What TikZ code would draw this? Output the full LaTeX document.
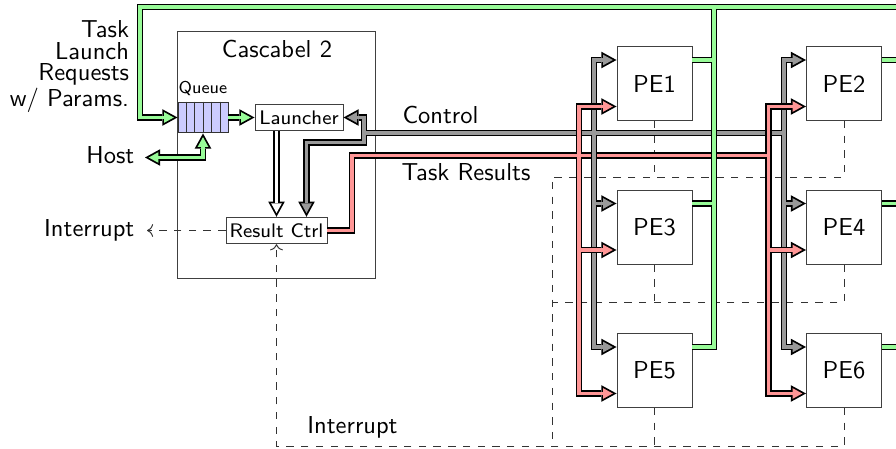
\documentclass[tikz,border=0pt]{standalone}
\usepackage{tikz}
\usetikzlibrary{arrows.meta, positioning, calc}
\renewcommand{\familydefault}{\sfdefault}

\definecolor{taskgreen}{RGB}{152,251,152}
\definecolor{ctrlgray}{RGB}{153,153,153}
\definecolor{resred}{RGB}{255,150,150}
\definecolor{fifoblue}{RGB}{204,204,255}

% each bus is drawn twice: black outline first, coloured core second
\newcommand{\launchbus}[3]{%
  \draw[#1] (out5) -| (714,7);
  \draw[#1] (out1) -- (out1 -| 714,0);
  \draw[#1] (out3) -- (out3 -| 714,0);
  \foreach \i in {2,4,6} \draw[#1] (out\i) -- ++(40,0);
  \draw[#1,#2] (910,7) -- (140,7) |- (queue.west);
  \draw[#1,#2] (queue.east) -- (launcher.west);
  \draw[#1,#3] (hostend) -| (queue.south);
}
\newcommand{\ctrlbus}[3]{%
  \draw[#1,#3] (launcher.east) -| (364,142.5) -| ($(result.north)+(30,0)$);
  \draw[#1] (364,133) -- (784,133);
  \foreach \i in {1,3,5} \draw[#1,#2] (594,133) |- (ctl\i);
  \foreach \i in {2,4,6} \draw[#1,#2] (784,133) |- (ctl\i);
}
\newcommand{\resbus}[2]{%
  \draw[#1] (result.east) -| (352,155.5) -- (768.5,155.5);
  \foreach \i in {1,3,5} \draw[#1,#2] (579,155.5) |- (res\i);
  \foreach \i in {2,4,6} \draw[#1,#2] (768.5,155.5) |- (res\i);
}
\newcommand{\handoff}[2]{%
  \draw[#1,#2] (launcher.south -| result.north) -- (result.north);
}

\begin{document}
\begin{tikzpicture}[
    x=0.408pt, y=-0.408pt,
    box/.style={rectangle, draw=black!75, fill=white, inner sep=0pt},
    pe/.style={box, minimum width=30.6pt, minimum height=30.2pt},
    unit/.style={box, font=\footnotesize},
    fifo/.style={rectangle, draw=black!80, fill=fifoblue, minimum width=20.4pt, minimum height=12.6pt, inner sep=0pt},
    busout/.style={draw=black, line width=2.7pt, >={Triangle[length=6.2pt, width=6.8pt, line width=0pt]}},
    busin/.style={draw=#1, line width=1.25pt, >={Triangle[length=3.96pt, width=4.35pt, line width=0pt]}},
    tipout/.style={->},
    tipin/.style={->, shorten >=1.51pt},
    bothout/.style={<->},
    bothin/.style={<->, shorten <=1.51pt, shorten >=1.51pt},
    irq/.style={draw=black!80, dashed}
]
\useasboundingbox (0,0) rectangle (896,449);
\clip (0,0) rectangle (896,449);

% Cascabel
\node[draw=black!75, minimum width=80.4pt, minimum height=100.4pt] (casc) at (276.5,155) {};
\node[anchor=base] (title) at (277,57.3) {Cascabel 2};
\node[fifo] (queue) at (203,117.5) {};
\foreach \k in {1,...,5}
  \draw[black!80] ($(queue.north west)!\k/6!(queue.north east)$) -- ($(queue.south west)!\k/6!(queue.south east)$);
\node[anchor=base, font=\scriptsize] (qlabel) at ($(queue.north)+(0,-8.5)$) {Queue};
\node[unit, minimum width=35.9pt, minimum height=11pt] (launcher) at (299,117.5) {Launcher};
\node[unit, minimum width=41.2pt, minimum height=10.8pt] (result) at (276.5,230.5) {Result Ctrl};

% PEs
\foreach \i/\x/\y in {1/654.5/83.5, 2/844/83.5, 3/654.5/227, 4/844/227, 5/654.5/370.5, 6/844/370.5} {
  \node[pe] (pe\i) at (\x,\y) {PE\i};
  \coordinate (out\i) at ($(pe\i.north east)+(0,14)$);
  \coordinate (ctl\i) at ($(pe\i.north west)+(0,14)$);
  \coordinate (res\i) at ($(pe\i.south west)+(0,-14.5)$);
}

% labels
\node[anchor=north east, align=right, font={\fontsize{10}{8.8}\selectfont}] (tlr) at (137.7,12) {Task\\Launch\\Requests\\w/ Params.};
\coordinate (hostend) at (145,157.5);
\node[anchor=base east] (host) at ($(hostend)+(-2,5.8)$) {Host};
\coordinate (irqend) at (147,230.5);
\node[anchor=base east] (irqlabel) at ($(irqend)+(-4,6.2)$) {Interrupt};
\node[anchor=base] (irqbus) at (352.5,433) {Interrupt};
\node[anchor=base] (ctrllabel) at (440.5,123.3) {Control};
\node[anchor=base] (reslabel) at (466,180.7) {Task Results};

% interrupts
\draw[irq] (pe2.south) |- (552,177) -- (552,446);
\draw[irq] (pe1.south) -- (pe1.south |- 0,177);
\draw[irq] (pe4.south) |- (552,302);
\draw[irq] (pe3.south) -- (pe3.south |- 0,302);
\draw[irq,->] (pe6.south) |- (result.south |- 0,446) -- (result.south);
\draw[irq] (pe5.south) -- (pe5.south |- 0,446);
\draw[irq,->] (result.west) -- (irqend);

% buses
\handoff{busout}{tipout}
\handoff{busin=white}{tipin}
\ctrlbus{busout}{tipout}{bothout}
\ctrlbus{busin=ctrlgray}{tipin}{bothin}
\resbus{busout}{tipout}
\resbus{busin=resred}{tipin}
\draw[busout] (594,146) -- (594,165);
\draw[busin=ctrlgray] (594,146) -- (594,165);
\launchbus{busout}{tipout}{bothout}
\launchbus{busin=taskgreen}{tipin}{bothin}
\end{tikzpicture}
\end{document}
